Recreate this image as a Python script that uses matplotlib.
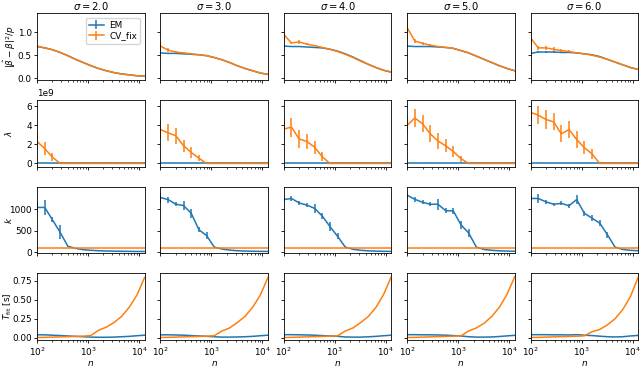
import numpy as np
import matplotlib
matplotlib.use("Agg")
import matplotlib.pyplot as plt

# sample sizes (log spaced, factor sqrt(2))
n = [100, 141, 200, 283, 400, 566, 800, 1131, 1600, 2263, 3200, 4525, 6400, 9051, 12800]
sigmas = [2.0, 3.0, 4.0, 5.0, 6.0]

# ---- |beta_hat - beta|^2 / p
beta_em = [
    [0.69, 0.66, 0.62, 0.56, 0.49, 0.41, 0.34, 0.27, 0.21, 0.16, 0.12, 0.09, 0.07, 0.05, 0.04],
    [0.55, 0.54, 0.54, 0.53, 0.52, 0.51, 0.49, 0.45, 0.40, 0.34, 0.27, 0.21, 0.16, 0.11, 0.08],
    [0.70, 0.69, 0.69, 0.68, 0.67, 0.66, 0.63, 0.59, 0.53, 0.46, 0.38, 0.30, 0.23, 0.17, 0.13],
    [0.70, 0.69, 0.69, 0.69, 0.68, 0.67, 0.65, 0.60, 0.55, 0.48, 0.41, 0.34, 0.27, 0.21, 0.16],
    [0.54, 0.57, 0.57, 0.57, 0.56, 0.56, 0.55, 0.53, 0.51, 0.47, 0.41, 0.35, 0.29, 0.23, 0.19],
]
beta_em_err = [
    [0.01, 0.01, 0.01, 0.01, 0.01, 0.0, 0.0, 0.0, 0.0, 0.0, 0.0, 0.0, 0.0, 0.0, 0.0],
    [0.015, 0.015, 0.01, 0.01, 0.01, 0.01, 0.0, 0.0, 0.0, 0.0, 0.0, 0.0, 0.0, 0.0, 0.0],
    [0.015, 0.015, 0.015, 0.01, 0.01, 0.01, 0.0, 0.0, 0.0, 0.0, 0.0, 0.0, 0.0, 0.0, 0.0],
    [0.015, 0.015, 0.015, 0.015, 0.01, 0.01, 0.01, 0.0, 0.0, 0.0, 0.0, 0.0, 0.0, 0.0, 0.0],
    [0.015, 0.015, 0.015, 0.015, 0.015, 0.01, 0.01, 0.0, 0.0, 0.0, 0.0, 0.0, 0.0, 0.0, 0.0],
]
beta_cv = [
    [0.70, 0.66, 0.62, 0.56, 0.49, 0.41, 0.34, 0.27, 0.21, 0.16, 0.12, 0.09, 0.07, 0.05, 0.04],
    [0.70, 0.61, 0.57, 0.55, 0.53, 0.51, 0.49, 0.45, 0.40, 0.34, 0.27, 0.21, 0.16, 0.11, 0.08],
    [0.95, 0.77, 0.79, 0.74, 0.71, 0.67, 0.63, 0.58, 0.52, 0.45, 0.37, 0.30, 0.23, 0.17, 0.13],
    [1.10, 0.81, 0.76, 0.72, 0.69, 0.67, 0.65, 0.60, 0.55, 0.48, 0.41, 0.34, 0.27, 0.21, 0.16],
    [0.88, 0.66, 0.66, 0.63, 0.60, 0.58, 0.55, 0.53, 0.50, 0.46, 0.41, 0.35, 0.29, 0.23, 0.19],
]
beta_cv_err = [
    [0.03, 0.01, 0.01, 0.0, 0.0, 0.0, 0.0, 0.0, 0.0, 0.0, 0.0, 0.0, 0.0, 0.0, 0.0],
    [0.12, 0.04, 0.02, 0.01, 0.01, 0.0, 0.0, 0.0, 0.0, 0.0, 0.0, 0.0, 0.0, 0.0, 0.0],
    [0.13, 0.03, 0.05, 0.02, 0.01, 0.0, 0.0, 0.0, 0.0, 0.0, 0.0, 0.0, 0.0, 0.0, 0.0],
    [0.27, 0.05, 0.03, 0.02, 0.02, 0.01, 0.0, 0.0, 0.0, 0.0, 0.0, 0.0, 0.0, 0.0, 0.0],
    [0.15, 0.05, 0.05, 0.04, 0.03, 0.03, 0.01, 0.0, 0.0, 0.0, 0.0, 0.0, 0.0, 0.0, 0.0],
]

# ---- lambda (x 1e9); EM is zero everywhere
lam_cv = [
    [2.3, 1.55, 0.65, 0, 0, 0, 0, 0, 0, 0, 0, 0, 0, 0, 0],
    [3.55, 3.2, 2.9, 1.85, 1.15, 0.55, 0, 0, 0, 0, 0, 0, 0, 0, 0],
    [3.6, 3.8, 2.55, 2.3, 1.7, 0.7, 0, 0, 0, 0, 0, 0, 0, 0, 0],
    [4.0, 4.75, 4.15, 3.1, 2.35, 1.85, 1.25, 0.5, 0, 0, 0, 0, 0, 0, 0],
    [5.35, 5.05, 4.6, 4.35, 3.1, 3.55, 2.5, 1.65, 1.0, 0, 0, 0, 0, 0, 0],
]
lam_cv_err = [
    [0.85, 0.7, 0.4, 0, 0, 0, 0, 0, 0, 0, 0, 0, 0, 0, 0],
    [0.95, 0.9, 0.85, 0.65, 0.55, 0.3, 0, 0, 0, 0, 0, 0, 0, 0, 0],
    [1.2, 1.0, 0.9, 0.8, 0.7, 0.45, 0, 0, 0, 0, 0, 0, 0, 0, 0],
    [0.9, 0.95, 0.9, 0.9, 0.8, 0.7, 0.6, 0.3, 0, 0, 0, 0, 0, 0, 0],
    [0.95, 0.95, 0.95, 0.9, 0.9, 0.85, 0.9, 0.65, 0.55, 0, 0, 0, 0, 0, 0],
]
lam_em = [0.0] * 15

# ---- k ; CV_fix uses a fixed k = 100
k_em = [
    [1040, 1040, 750, 460, 135, 85, 55, 40, 30, 24, 20, 17, 15, 13, 12],
    [1270, 1225, 1115, 1085, 905, 520, 385, 115, 70, 45, 30, 22, 18, 15, 13],
    [1225, 1250, 1145, 1095, 1020, 840, 595, 365, 115, 65, 40, 28, 20, 16, 14],
    [1325, 1230, 1160, 1115, 1115, 965, 960, 635, 445, 115, 60, 40, 28, 22, 18],
    [1250, 1250, 1170, 1115, 1135, 1080, 1225, 905, 790, 675, 405, 115, 60, 40, 30],
]
k_em_err = [
    [135, 180, 60, 160, 15, 0, 0, 0, 0, 0, 0, 0, 0, 0, 0],
    [115, 70, 45, 100, 100, 60, 80, 0, 0, 0, 0, 0, 0, 0, 0],
    [45, 50, 55, 50, 110, 70, 100, 70, 0, 0, 0, 0, 0, 0, 0],
    [60, 55, 45, 45, 130, 65, 70, 100, 90, 0, 0, 0, 0, 0, 0],
    [50, 95, 50, 40, 45, 50, 95, 55, 75, 70, 70, 0, 0, 0, 0],
]
k_cv = [100] * 15

# ---- fit time [s]
t_em = [
    [0.040, 0.040, 0.035, 0.030, 0.025, 0.020, 0.015, 0.010, 0.008, 0.008, 0.010, 0.015, 0.020, 0.028, 0.035],
    [0.040, 0.040, 0.038, 0.035, 0.030, 0.025, 0.020, 0.015, 0.010, 0.010, 0.012, 0.015, 0.020, 0.028, 0.035],
    [0.042, 0.042, 0.040, 0.038, 0.035, 0.030, 0.025, 0.020, 0.012, 0.010, 0.010, 0.014, 0.020, 0.028, 0.035],
    [0.042, 0.042, 0.040, 0.040, 0.038, 0.035, 0.030, 0.025, 0.015, 0.010, 0.010, 0.012, 0.018, 0.026, 0.033],
    [0.042, 0.042, 0.042, 0.040, 0.040, 0.038, 0.042, 0.035, 0.030, 0.022, 0.015, 0.012, 0.015, 0.025, 0.032],
]
t_cv = [
    [0.005, 0.007, 0.010, 0.013, 0.016, 0.019, 0.022, 0.030, 0.10, 0.14, 0.20, 0.28, 0.40, 0.56, 0.79],
    [0.005, 0.007, 0.010, 0.013, 0.016, 0.019, 0.022, 0.028, 0.09, 0.13, 0.20, 0.28, 0.40, 0.56, 0.79],
    [0.005, 0.007, 0.010, 0.013, 0.016, 0.019, 0.022, 0.026, 0.09, 0.13, 0.20, 0.28, 0.40, 0.57, 0.80],
    [0.005, 0.007, 0.010, 0.013, 0.016, 0.019, 0.022, 0.026, 0.09, 0.13, 0.19, 0.28, 0.40, 0.57, 0.80],
    [0.005, 0.007, 0.010, 0.013, 0.016, 0.019, 0.022, 0.027, 0.08, 0.11, 0.17, 0.25, 0.37, 0.54, 0.79],
]

plt.rcParams["font.size"] = 6.4
plt.rcParams["lines.linewidth"] = 1.1
for ax_ in ("xtick", "ytick"):
    plt.rcParams[ax_ + ".major.size"] = 2.4
    plt.rcParams[ax_ + ".minor.size"] = 1.4
    plt.rcParams[ax_ + ".major.width"] = 0.6
    plt.rcParams[ax_ + ".minor.width"] = 0.5
    plt.rcParams[ax_ + ".major.pad"] = 1.5
    plt.rcParams[ax_ + ".minor.pad"] = 1.5
plt.rcParams["axes.linewidth"] = 0.6

C_EM = "#1f77b4"
C_CV = "#ff7f0e"

fig, axes = plt.subplots(4, 5, figsize=(6.4, 3.66), dpi=100, sharex=True, sharey="row")
fig.subplots_adjust(left=0.058, right=0.997, top=0.964, bottom=0.071, wspace=0.148, hspace=0.30)

for j, s in enumerate(sigmas):
    # row 0: estimation error
    ax = axes[0, j]
    ax.errorbar(n, beta_em[j], yerr=beta_em_err[j], color=C_EM, label="EM")
    ax.errorbar(n, beta_cv[j], yerr=beta_cv_err[j], color=C_CV, label="CV_fix")
    ax.set_title(rf"$\sigma = {s}$", fontsize=7.2, pad=2.5)

    # row 1: lambda
    ax = axes[1, j]
    ax.errorbar(n, lam_em, yerr=0, color=C_EM)
    ax.errorbar(n, np.array(lam_cv[j]) * 1e9, yerr=np.array(lam_cv_err[j]) * 1e9, color=C_CV)

    # row 2: k
    ax = axes[2, j]
    ax.errorbar(n, k_em[j], yerr=k_em_err[j], color=C_EM)
    ax.errorbar(n, k_cv, yerr=0, color=C_CV)

    # row 3: time
    ax = axes[3, j]
    ax.errorbar(n, t_em[j], yerr=0, color=C_EM)
    ax.errorbar(n, t_cv[j], yerr=0, color=C_CV)
    ax.set_xlabel("$n$", labelpad=0.5)

axes[0, 0].set_xscale("log")
axes[0, 0].set_xlim(100, 12800)

axes[0, 0].set_ylim(-0.04, 1.42)
axes[0, 0].set_yticks([0.0, 0.5, 1.0])
axes[1, 0].set_ylim(-0.33e9, 6.65e9)
axes[1, 0].set_yticks([0, 2e9, 4e9, 6e9])
axes[2, 0].set_ylim(-30, 1527)
axes[2, 0].set_yticks([0, 500, 1000])
axes[3, 0].set_ylim(-0.028, 0.845)
axes[3, 0].set_yticks([0.0, 0.25, 0.5, 0.75])

ylabels = [r"$|\hat{\beta} - \beta|^2/p$", r"$\lambda$", r"$k$", r"$T_{\mathrm{fit}}$ [s]"]
label_x = [-0.18, -0.215, -0.215, -0.215]
for i, lab in enumerate(ylabels):
    axes[i, 0].set_ylabel(lab)
    axes[i, 0].yaxis.set_label_coords(label_x[i], 0.5)

axes[0, 0].legend(loc="upper right", fontsize=6.4, borderpad=0.35, labelspacing=0.2,
                  handlelength=1.7, handletextpad=0.6)

fig.savefig("out.png", dpi=100)
